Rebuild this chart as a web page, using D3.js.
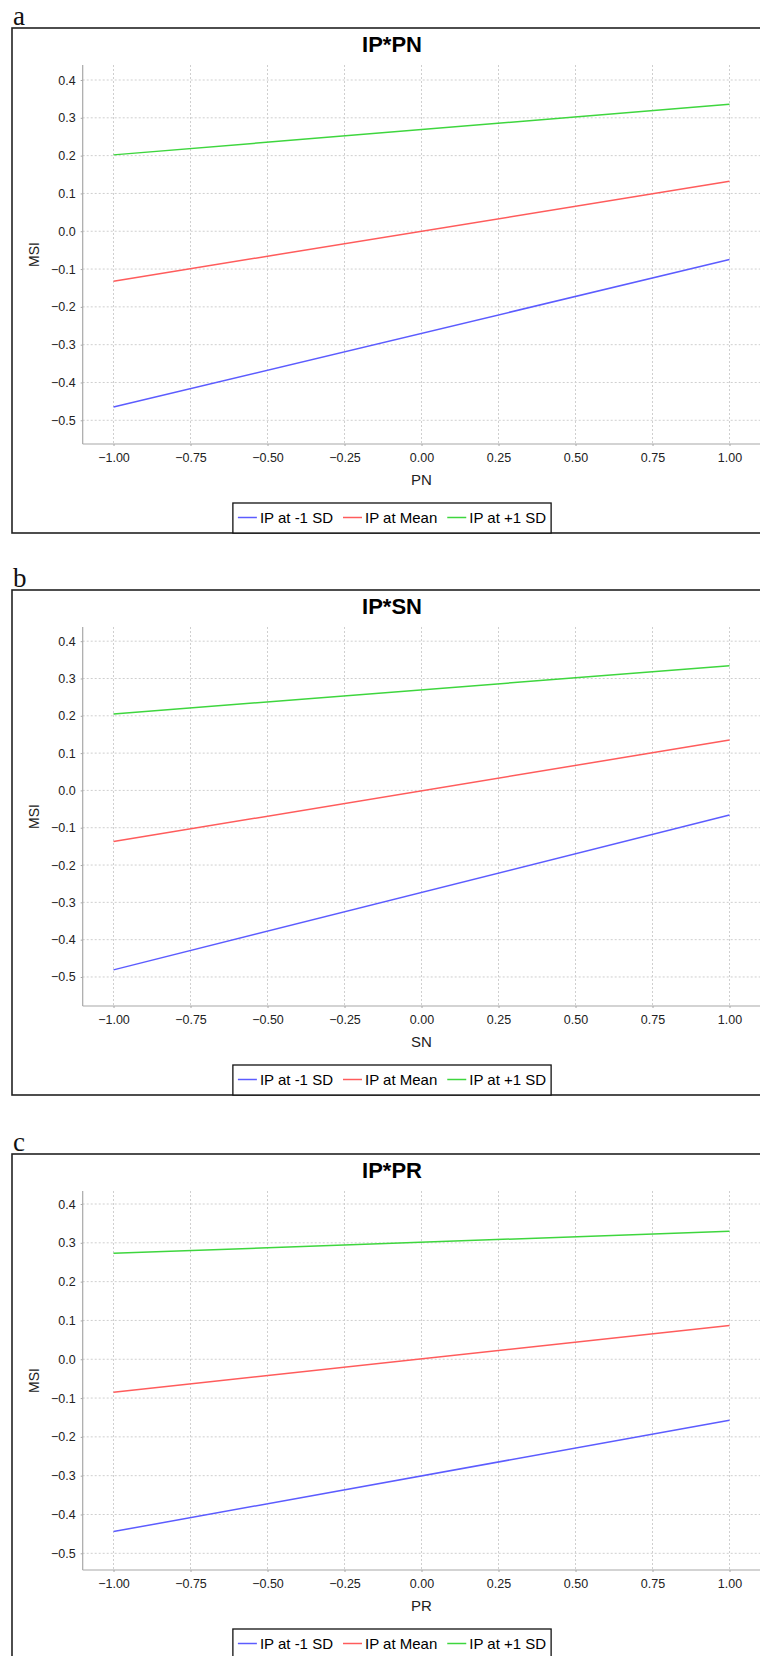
<!DOCTYPE html>
<html>
<head>
<meta charset="utf-8">
<script src="https://cdn.jsdelivr.net/npm/d3@7"></script>
<style>
  html, body { margin: 0; padding: 0; background: #fff; }
  svg { display: block; }
  text { font-family: "Liberation Sans", Arial, sans-serif; }
</style>
</head>
<body>
<svg id="chart" width="760" height="1656"></svg>
<script>
// Simple-slope plots of MSI on each predictor at three levels of IP
const panelLetters = ["a", "b", "c"];
const panelTitles = ["IP*PN", "IP*SN", "IP*PR"];
const xAxisLabels = ["PN", "SN", "PR"];
const yAxisLabel = "MSI";
const seriesNames = ["IP at -1 SD", "IP at Mean", "IP at +1 SD"];
const xPoints = [-1, 1];
// MSI at x = -1 and x = 1, one pair per panel
const ipLow  = [[-0.465, -0.075], [-0.481, -0.066], [-0.444, -0.157]];
const ipMean = [[-0.132,  0.132], [-0.137,  0.135], [-0.085,  0.087]];
const ipHigh = [[ 0.202,  0.336], [ 0.205,  0.334], [ 0.273,  0.330]];
const xTicks = [-1.00, -0.75, -0.50, -0.25, 0.00, 0.25, 0.50, 0.75, 1.00];
const yTicks = [0.4, 0.3, 0.2, 0.1, 0.0, -0.1, -0.2, -0.3, -0.4, -0.5];
// value range shown on each panel's vertical axis
const yRanges = [[-0.5627, 0.4397], [-0.5778, 0.438], [-0.543, 0.4335]];
const xRange = [-1.1, 1.1];

const seriesColors = ["#5c5cff", "#ff5c5c", "#3ed63e"];

const svg = d3.select("#chart");
svg.append("rect").attr("width", 760).attr("height", 1656).attr("fill", "#fff");

const panelTops = [28, 590, 1154];
const frameLeft = 12, frameWidth = 760, frameHeight = 505;
const plotLeft = 82.7, plotRight = 760.3;
const plotTop = 37, plotBottom = 416;
const titleX = frameLeft + frameWidth / 2;

const x = d3.scaleLinear().domain(xRange).range([plotLeft, plotRight]);

panelTitles.forEach((title, i) => {
  const g = svg.append("g").attr("transform", `translate(0,${panelTops[i]})`);
  const y = d3.scaleLinear().domain(yRanges[i]).range([plotBottom, plotTop]);

  // panel letter
  g.append("text")
    .attr("x", 13).attr("y", -3)
    .style("font-family", "'Liberation Serif', 'Times New Roman', serif")
    .style("font-size", "27px")
    .attr("fill", "#111")
    .text(panelLetters[i]);

  // outer frame
  g.append("rect")
    .attr("x", frameLeft).attr("y", 0)
    .attr("width", frameWidth).attr("height", frameHeight)
    .attr("fill", "#fff").attr("stroke", "#222").attr("stroke-width", 1.6);

  // title
  g.append("text")
    .attr("x", titleX).attr("y", 23.5)
    .attr("text-anchor", "middle")
    .style("font-size", "22px").style("font-weight", "bold")
    .attr("fill", "#000")
    .text(title);

  // grid
  const grid = g.append("g")
    .attr("stroke", "#cfcfcf").attr("stroke-width", 1)
    .attr("stroke-dasharray", "2,2").attr("fill", "none");
  grid.selectAll("line.v").data(xTicks).join("line")
    .attr("class", "v")
    .attr("x1", d => x(d)).attr("x2", d => x(d))
    .attr("y1", plotTop).attr("y2", plotBottom);
  grid.selectAll("line.h").data(yTicks).join("line")
    .attr("class", "h")
    .attr("x1", plotLeft).attr("x2", plotRight)
    .attr("y1", d => y(d)).attr("y2", d => y(d));

  // axes
  const yAxis = d3.axisLeft(y).tickValues(yTicks).tickFormat(d3.format(".1f"))
    .tickSizeInner(2).tickSizeOuter(0).tickPadding(5);
  const xAxis = d3.axisBottom(x).tickValues(xTicks).tickFormat(d3.format(".2f"))
    .tickSizeInner(2).tickSizeOuter(0).tickPadding(7);

  const ya = g.append("g").attr("transform", `translate(${plotLeft},0)`).call(yAxis);
  const xa = g.append("g").attr("transform", `translate(0,${plotBottom})`).call(xAxis);
  [ya, xa].forEach(a => {
    a.select(".domain").attr("stroke", "#a8a8a8").attr("stroke-width", 1.2);
    a.selectAll(".tick line").attr("stroke", "#a8a8a8");
    a.selectAll(".tick text")
      .style("font-family", "'Liberation Sans', Arial, sans-serif")
      .style("font-size", "12.5px")
      .attr("fill", "#222");
  });
  // axis lines span the plot box fully
  ya.select(".domain").attr("d", `M0,${plotTop}V${plotBottom}`);
  xa.select(".domain").attr("d", `M${plotLeft},0H${plotRight}`);

  // axis labels
  g.append("text")
    .attr("x", x(0)).attr("y", 452).attr("dy", "0.35em")
    .attr("text-anchor", "middle")
    .style("font-size", "15px").attr("fill", "#222")
    .text(xAxisLabels[i]);
  g.append("text")
    .attr("transform", `translate(34,${(plotTop + plotBottom) / 2}) rotate(-90)`)
    .attr("text-anchor", "middle").attr("dy", "0.35em")
    .style("font-size", "14px").attr("fill", "#222")
    .text(yAxisLabel);

  // series lines
  const seriesData = [ipLow[i], ipMean[i], ipHigh[i]];
  const line = d3.line().x(d => x(d[0])).y(d => y(d[1]));
  seriesData.forEach((vals, s) => {
    g.append("path")
      .datum(xPoints.map((xv, k) => [xv, vals[k]]))
      .attr("d", line)
      .attr("fill", "none")
      .attr("stroke", seriesColors[s])
      .attr("stroke-width", 1.5);
  });

  // legend
  const legTop = 475, legBottom = 505, legMid = 489.5;
  const leg = g.append("g");
  const box = leg.append("rect")
    .attr("y", legTop).attr("height", legBottom - legTop)
    .attr("fill", "#fff").attr("stroke", "#111").attr("stroke-width", 1.3);
  let cx = 0;
  seriesNames.forEach((name, s) => {
    const it = leg.append("g");
    it.append("line")
      .attr("x1", cx + 5).attr("x2", cx + 24)
      .attr("y1", legMid).attr("y2", legMid)
      .attr("stroke", seriesColors[s]).attr("stroke-width", 1.5);
    const t = it.append("text")
      .attr("x", cx + 27).attr("y", legMid).attr("dy", "0.35em")
      .style("font-size", "15px").attr("fill", "#000")
      .text(name);
    cx += 27 + t.node().getComputedTextLength() + 5;
  });
  const legWidth = cx;
  const legLeft = titleX - legWidth / 2;
  box.attr("x", 0).attr("width", legWidth);
  leg.attr("transform", `translate(${legLeft},0)`);
});
</script>
</body>
</html>
